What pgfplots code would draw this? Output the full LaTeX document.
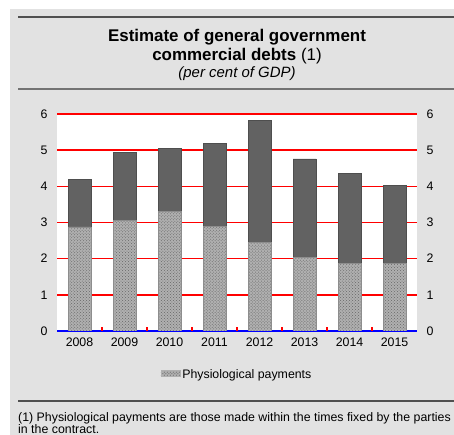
\documentclass[border=0pt]{standalone}
\usepackage{pgfplots}
\pgfplotsset{compat=1.18}
\usepackage{fontspec}
\setmainfont{Liberation Sans}
\usetikzlibrary{patterns}
\definecolor{bggray}{HTML}{E2E2E2}
\definecolor{rulegray}{HTML}{505050}
\definecolor{darkbar}{HTML}{626262}
\definecolor{gridgray}{HTML}{A8A8A8}
\definecolor{patgray}{HTML}{B0B0B0}
\begin{document}
\begin{tikzpicture}[x=1bp,y=1bp]
\path[use as bounding box] (0,0) rectangle (454,435);
\fill[white] (0,0) rectangle (454,435);
\fill[bggray] (10,0) rectangle (454,426);
\fill[white] (57,104) rectangle (417,321);
\foreach \k in {1,...,6} {\draw[red, line width=1.5bp] (57,104+\k*36.1667) -- (417,104+\k*36.1667);}
\draw[blue, line width=1.5bp] (57,104) -- (417,104);
\foreach \k in {1,...,7} {\draw[red, line width=1.5bp] (57+\k*45,104) -- (57+\k*45,108);}
\draw[rulegray, line width=2bp] (18,418) -- (454,418);
\draw[rulegray!80, line width=1.3bp] (18,346) -- (454,346);
\draw[rulegray, line width=1.5bp] (18,34) -- (454,34);
\node[anchor=base, inner sep=0pt, font=\fontsize{17}{20}\selectfont\bfseries] at (237,393.3) {Estimate of general government};
\node[anchor=base, inner sep=0pt, font=\fontsize{17}{20}\selectfont] at (237,374) {\textbf{commercial debts} (1)};
\node[anchor=base, inner sep=0pt, font=\fontsize{15}{17}\selectfont\itshape] at (237,357) {(per cent of GDP)};
\node[anchor=base west, inner sep=0pt, font=\fontsize{12.4}{14}\selectfont] at (18,13.3) {(1) Physiological payments are those made within the times fixed by the parties};
\node[anchor=base west, inner sep=0pt, font=\fontsize{12.4}{14}\selectfont] at (18,1.5) {in the contract.};

\begin{axis}[
  at={(57bp,104bp)}, anchor=south west,
  scale only axis, width=360bp, height=217bp,
  ybar stacked, bar width=23bp,
  xmin=-0.5, xmax=7.5, ymin=0, ymax=6,
  axis line style={draw=none},
  xtick=data,
  xticklabels={2008,2009,2010,2011,2012,2013,2014,2015},
  xtick pos=bottom, ytick pos=left,
  major tick length=0bp,
  ytick={0,1,2,3,4,5,6},
  /pgf/number format/assume math mode=true,
  tick label style={font=\fontsize{12.4}{14}\selectfont},
  xticklabel style={yshift=-3bp},
  yticklabel style={xshift=-6bp},
  legend style={at={(0.5,-0.20)}, anchor=center, draw=none, fill=none, font=\fontsize{12.4}{14}\selectfont, legend cell align=left},
  legend image code/.code={\fill[patgray, postaction={pattern=crosshatch dots, pattern color=gray}] (0cm,-0.07cm) rectangle (0.68cm,0.14cm);},
]
\addplot[fill=patgray, draw=patgray!80!black, postaction={pattern=crosshatch dots, pattern color=gray!80!black}] coordinates {(0,2.88) (1,3.05) (2,3.31) (3,2.90) (4,2.46) (5,2.04) (6,1.88) (7,1.87)};
\addlegendentry{Physiological payments}
\addplot[fill=darkbar, draw=darkbar!80!black, forget plot] coordinates {(0,1.31) (1,1.89) (2,1.74) (3,2.29) (4,3.36) (5,2.72) (6,2.47) (7,2.15)};
\end{axis}
\begin{axis}[
  at={(57bp,104bp)}, anchor=south west,
  scale only axis, width=360bp, height=217bp,
  xmin=-0.5, xmax=7.5, ymin=0, ymax=6,
  axis line style={draw=none},
  xtick=\empty, ytick pos=right, yticklabel pos=right,
  ytick={0,1,2,3,4,5,6}, major tick length=0bp,
  /pgf/number format/assume math mode=true,
  tick label style={font=\fontsize{12.4}{14}\selectfont},
  yticklabel style={xshift=6bp},
]
\end{axis}
\end{tikzpicture}
\end{document}
